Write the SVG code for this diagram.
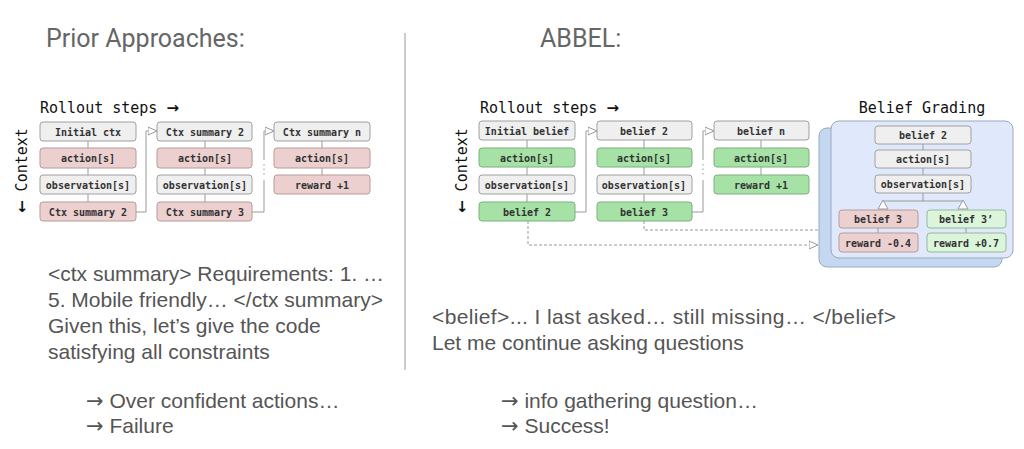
<svg xmlns="http://www.w3.org/2000/svg" width="1024" height="449" viewBox="0 0 1024 449">
<defs>
<style>
.b{stroke:#a0a0a0;stroke-width:1;}
.g{fill:#efefef}.p{fill:#ecd0d0;stroke:#b89a9a}.gr{fill:#a6e2a6;stroke:#7fae7f}.lg{fill:#daf5da;stroke:#99b899}
.t{font-family:"DejaVu Sans Mono","Liberation Mono",monospace;font-size:10px;font-weight:bold;fill:#333;text-anchor:middle}
.h{font-family:"DejaVu Sans Mono","Liberation Mono",monospace;font-size:15px;fill:#111}
.ar{font-family:"DejaVu Sans",sans-serif;font-weight:bold}
.ar2{font-family:"DejaVu Sans",sans-serif}
.big{font-family:"Liberation Sans",Arial,sans-serif;font-size:21px;fill:#555}
.hd{font-family:"Roboto","Liberation Sans",sans-serif;font-size:25px;fill:#666}
.ln{stroke:#999;stroke-width:1;fill:none}
.dl{stroke:#999;stroke-width:1;fill:none;stroke-dasharray:3 2}
</style>
<marker id="a" viewBox="0 0 10 10" refX="9" refY="5" markerWidth="10" markerHeight="10" markerUnits="userSpaceOnUse" orient="auto"><path d="M0,1 L9,5 L0,9 Z" fill="#fff" stroke="#999"/></marker>
</defs>
<text class="hd" x="46" y="47">Prior Approaches:</text>
<text class="hd" x="540" y="47">ABBEL:</text>
<line x1="405" y1="33" x2="405" y2="370" stroke="#999"/>
<text class="h" x="40" y="113">Rollout steps <tspan class="ar">→</tspan></text>
<text class="h" transform="translate(27,213) rotate(-90)"><tspan class="ar">←</tspan> Context</text>
<text class="h" x="480" y="113">Rollout steps <tspan class="ar">→</tspan></text>
<text class="h" transform="translate(467,213) rotate(-90)"><tspan class="ar">←</tspan> Context</text>
<text class="h" x="922" y="113" text-anchor="middle">Belief Grading</text>
<g id="connectors">
<line class="ln" x1="88" y1="141" x2="88" y2="202"/>
<line class="ln" x1="205" y1="141" x2="205" y2="202"/>
<line class="ln" x1="322" y1="141" x2="322" y2="175"/>
<path class="ln" d="M136,212 H146 V131 H157" marker-end="url(#a)"/>
<path class="ln" d="M252,212 H264 V180 M264,160 V131 H274" marker-end="url(#a)"/>
<path d="M264,164 V176" stroke="#999" stroke-dasharray="1.5 3"/>
<line class="ln" x1="527" y1="140" x2="527" y2="202"/>
<line class="ln" x1="644" y1="140" x2="644" y2="202"/>
<line class="ln" x1="761" y1="140" x2="761" y2="175"/>
<path class="ln" d="M575,212 H586 V131 H597" marker-end="url(#a)"/>
<path class="ln" d="M692,212 H703 V180 M703,160 V131 H714" marker-end="url(#a)"/>
<path d="M703,164 V176" stroke="#999" stroke-dasharray="1.5 3"/>
<path class="dl" d="M644,221 V230 H830" marker-end="url(#a)"/>
<path class="dl" d="M528,221 V245 H818" marker-end="url(#a)"/>
</g>
<g id="panel">
<rect x="819" y="128" width="183" height="139" rx="8" fill="#c5d8f1" stroke="#9ab"/>
<rect x="831" y="121" width="182" height="137" rx="8" fill="#dfe9fb" stroke="#9ab"/>
<line class="ln" x1="923" y1="144" x2="923" y2="201"/>
<path class="ln" d="M883,207 V201 H963 V207"/>
<path d="M878,209 L883,200 L888,209 Z M958,209 L963,200 L968,209 Z" fill="#fff" stroke="#999"/>
<line class="ln" x1="878" y1="228" x2="878" y2="233"/>
<line class="ln" x1="966" y1="228" x2="966" y2="233"/>
</g>
<g id="n1"><rect class="b g" x="40" y="122" width="96" height="19" rx="3"/><text class="t" x="88" y="135.5">Initial ctx</text></g>
<g id="n2"><rect class="b p" x="40" y="148" width="96" height="20" rx="3"/><text class="t" x="88" y="162">action[s]</text></g>
<g id="n3"><rect class="b g" x="40" y="175" width="96" height="19" rx="3"/><text class="t" x="88" y="188.5">observation[s]</text></g>
<g id="n4"><rect class="b p" x="40" y="202" width="96" height="19" rx="3"/><text class="t" x="88" y="215.5">Ctx summary 2</text></g>
<g id="n5"><rect class="b g" x="157" y="122" width="95" height="19" rx="3"/><text class="t" x="205" y="135.5">Ctx summary 2</text></g>
<g id="n6"><rect class="b p" x="157" y="148" width="95" height="20" rx="3"/><text class="t" x="205" y="162">action[s]</text></g>
<g id="n7"><rect class="b g" x="157" y="175" width="95" height="19" rx="3"/><text class="t" x="205" y="188.5">observation[s]</text></g>
<g id="n8"><rect class="b p" x="157" y="202" width="95" height="19" rx="3"/><text class="t" x="205" y="215.5">Ctx summary 3</text></g>
<g id="n9"><rect class="b g" x="274" y="122" width="96" height="19" rx="3"/><text class="t" x="322" y="135.5">Ctx summary n</text></g>
<g id="n10"><rect class="b p" x="274" y="148" width="96" height="20" rx="3"/><text class="t" x="322" y="162">action[s]</text></g>
<g id="n11"><rect class="b p" x="274" y="175" width="96" height="19" rx="3"/><text class="t" x="322" y="188.5">reward +1</text></g>
<g id="m1"><rect class="b g" x="479" y="121" width="96" height="19" rx="3"/><text class="t" x="527" y="134.5">Initial belief</text></g>
<g id="m2"><rect class="b gr" x="479" y="148" width="96" height="19" rx="3"/><text class="t" x="527" y="161.5">action[s]</text></g>
<g id="m3"><rect class="b g" x="479" y="175" width="96" height="19" rx="3"/><text class="t" x="527" y="188.5">observation[s]</text></g>
<g id="m4"><rect class="b gr" x="479" y="202" width="96" height="19" rx="3"/><text class="t" x="527" y="215.5">belief 2</text></g>
<g id="m5"><rect class="b g" x="597" y="121" width="95" height="19" rx="3"/><text class="t" x="644" y="134.5">belief 2</text></g>
<g id="m6"><rect class="b gr" x="597" y="148" width="95" height="19" rx="3"/><text class="t" x="644" y="161.5">action[s]</text></g>
<g id="m7"><rect class="b g" x="597" y="175" width="95" height="19" rx="3"/><text class="t" x="644" y="188.5">observation[s]</text></g>
<g id="m8"><rect class="b gr" x="597" y="202" width="95" height="19" rx="3"/><text class="t" x="644" y="215.5">belief 3</text></g>
<g id="m9"><rect class="b g" x="714" y="121" width="95" height="19" rx="3"/><text class="t" x="761" y="134.5">belief n</text></g>
<g id="m10"><rect class="b gr" x="714" y="148" width="95" height="19" rx="3"/><text class="t" x="761" y="161.5">action[s]</text></g>
<g id="m11"><rect class="b gr" x="714" y="175" width="95" height="19" rx="3"/><text class="t" x="761" y="188.5">reward +1</text></g>
<g id="k1"><rect class="b g" x="875" y="126" width="96" height="18" rx="3"/><text class="t" x="923" y="139">belief 2</text></g>
<g id="k2"><rect class="b g" x="875" y="150" width="96" height="18" rx="3"/><text class="t" x="923" y="163">action[s]</text></g>
<g id="k3"><rect class="b g" x="875" y="175" width="96" height="18" rx="3"/><text class="t" x="923" y="188">observation[s]</text></g>
<g id="k4"><rect class="b p" x="839" y="210" width="79" height="18" rx="3"/><text class="t" x="878" y="223">belief 3</text></g>
<g id="k5"><rect class="b p" x="839" y="233" width="79" height="19" rx="3"/><text class="t" x="878" y="246.5">reward -0.4</text></g>
<g id="k6"><rect class="b lg" x="927" y="210" width="79" height="18" rx="3"/><text class="t" x="966" y="223">belief 3’</text></g>
<g id="k7"><rect class="b lg" x="927" y="233" width="79" height="19" rx="3"/><text class="t" x="966" y="246.5">reward +0.7</text></g>
<text class="big" x="48" y="281">&lt;ctx summary&gt; Requirements: 1. …</text>
<text class="big" x="48" y="307">5. Mobile friendly… &lt;/ctx summary&gt;</text>
<text class="big" x="48" y="333">Given this, let’s give the code</text>
<text class="big" x="48" y="359">satisfying all constraints</text>
<text class="big" x="86" y="408"><tspan class="ar2">→</tspan> Over confident actions…</text>
<text class="big" x="86" y="433"><tspan class="ar2">→</tspan> Failure</text>
<text class="big" x="432" y="324" textLength="464">&lt;belief&gt;... I last asked… still missing… &lt;/belief&gt;</text>
<text class="big" x="432" y="350">Let me continue asking questions</text>
<text class="big" x="501" y="408"><tspan class="ar2">→</tspan> info gathering question…</text>
<text class="big" x="501" y="433"><tspan class="ar2">→</tspan> Success!</text>
</svg>
